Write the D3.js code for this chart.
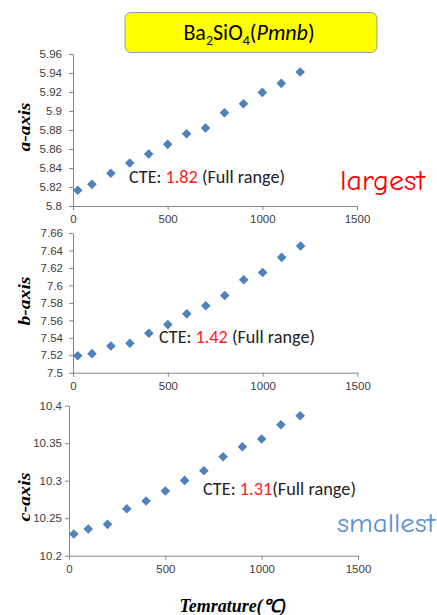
<!DOCTYPE html>
<html><head><meta charset="utf-8">
<script src="https://cdn.jsdelivr.net/npm/d3@7/dist/d3.min.js"></script>
<style>body{margin:0;background:#fff}svg{display:block}</style>
</head><body>
<script>
const temps = [25,100,200,300,400,500,600,700,800,900,1000,1100,1200];
const aValues = [5.8165,5.8228,5.8344,5.8453,5.8547,5.8649,5.8761,5.8821,5.8982,5.9077,5.9196,5.9291,5.9411];
const bValues = [7.5195,7.5218,7.5306,7.5337,7.5452,7.5551,7.5674,7.5766,7.5884,7.6064,7.6148,7.6321,7.6451];
const cValues = [10.2289,10.2356,10.2418,10.2627,10.2729,10.2862,10.3004,10.3133,10.3320,10.3453,10.3556,10.3747,10.3867];
const xTicks = [0,500,1000,1500];
const aTicks = [5.8,5.82,5.84,5.86,5.88,5.9,5.92,5.94,5.96];
const bTicks = [7.5,7.52,7.54,7.56,7.58,7.6,7.62,7.64,7.66];
const cTicks = [10.2,10.25,10.3,10.35,10.4];
const axisLabels = ["a-axis","b-axis","c-axis"];
const cteValues = ["1.82","1.42","1.31"];

const W=437,H=615;
const svg=d3.select("body").append("svg").attr("width",W).attr("height",H);

const panels=[
 {vals:aValues,ticks:aTicks,dom:[5.8,5.96],left:73,right:357,top:54,bottom:206,lab:axisLabels[0],labY:127,cte:cteValues[0],cteX:129,cteY:183,sep:" ",cteW:156,pad:7},
 {vals:bValues,ticks:bTicks,dom:[7.5,7.66],left:73,right:357.5,top:233,bottom:372.7,lab:axisLabels[1],labY:301,cte:cteValues[1],cteX:159,cteY:343,sep:" ",cteW:156,pad:6},
 {vals:cValues,ticks:cTicks,dom:[10.2,10.4],left:69,right:358,top:405.7,bottom:555.7,lab:axisLabels[2],labY:497,cte:cteValues[2],cteX:203,cteY:495,sep:"",cteW:153,pad:3}
];

panels.forEach(p=>{
  const x=d3.scaleLinear().domain([0,1500]).range([p.left,p.right]);
  const y=d3.scaleLinear().domain(p.dom).range([p.bottom,p.top]);
  const g=svg.append("g");
  const xa=g.append("g").attr("transform",`translate(0,${p.bottom})`)
    .call(d3.axisBottom(x).tickValues(xTicks).tickSize(4).tickPadding(5).tickSizeOuter(0).tickFormat(d3.format("d")));
  const ya=g.append("g").attr("transform",`translate(${p.left},0)`)
    .call(d3.axisLeft(y).tickValues(p.ticks).tickSize(4).tickPadding(p.pad).tickSizeOuter(0).tickFormat(d=>String(+d.toFixed(3))));
  [xa,ya].forEach(a=>{
    a.select(".domain").attr("stroke","#868686");
    a.selectAll(".tick line").attr("stroke","#868686");
    a.selectAll(".tick text").attr("fill","#404040").attr("font-family","'Liberation Sans',Arial,sans-serif").attr("font-size",11.5);
  });
  g.selectAll("path.pt").data(p.vals).join("path").attr("class","pt")
    .attr("d",d3.symbol().type(d3.symbolSquare).size(46))
    .attr("transform",(d,i)=>`translate(${x(temps[i])},${y(d)}) rotate(45)`)
    .attr("fill","#4f81bd");
  svg.append("text").attr("transform",`translate(30,${p.labY}) rotate(-90)`)
    .attr("text-anchor","middle").attr("font-family","'Liberation Serif','Times New Roman',serif")
    .attr("font-weight","bold").attr("font-style","italic").attr("font-size",17).attr("fill","#000")
    .attr("textLength",49).attr("lengthAdjust","spacingAndGlyphs").text(p.lab);
  const t=svg.append("text").attr("x",p.cteX).attr("y",p.cteY)
    .attr("font-family","Carlito,Lato,'Open Sans',sans-serif").attr("font-size",18).attr("fill","#222")
    .attr("textLength",p.cteW).attr("lengthAdjust","spacingAndGlyphs");
  t.append("tspan").text("CTE: ");
  t.append("tspan").attr("fill","#ff2020").text(p.cte);
  t.append("tspan").text(p.sep+"(Full range)");
});

// Title box
svg.append("rect").attr("x",125).attr("y",12.5).attr("width",252).attr("height",40).attr("rx",6)
  .attr("fill","#ffff00").attr("stroke","#8ea0b8").attr("stroke-width",1);
const tt=svg.append("text").attr("x",249).attr("y",40).attr("text-anchor","middle")
  .attr("font-family","Carlito,Lato,'Open Sans',sans-serif").attr("font-size",22).attr("fill","#000");
tt.append("tspan").text("Ba");
tt.append("tspan").attr("font-size",14).attr("dy",5).text("2");
tt.append("tspan").attr("dy",-5).text("SiO");
tt.append("tspan").attr("font-size",14).attr("dy",5).text("4");
tt.append("tspan").attr("dy",-5).text("(");
tt.append("tspan").attr("font-style","italic").text("Pmnb");
tt.append("tspan").text(")");

svg.append("text").attr("x",340).attr("y",190).attr("font-family","'Comic Sans MS','Comic Neue',Lato,sans-serif")
  .attr("font-size",28).attr("fill","#ff0000").attr("textLength",85).attr("lengthAdjust","spacingAndGlyphs").text("largest");
svg.append("text").attr("x",337).attr("y",532).attr("font-family","'Comic Sans MS','Comic Neue',Lato,sans-serif")
  .attr("font-size",27).attr("fill","#5b8fd6").attr("textLength",98).attr("lengthAdjust","spacingAndGlyphs").text("smallest");

svg.append("text").attr("x",233).attr("y",612).attr("text-anchor","middle")
  .attr("font-family","'Liberation Serif','Times New Roman',serif").attr("font-weight","bold").attr("font-style","italic")
  .attr("font-size",18).attr("fill","#000").attr("textLength",107).attr("lengthAdjust","spacingAndGlyphs").text("Temrature(℃)");
</script>
</body></html>
